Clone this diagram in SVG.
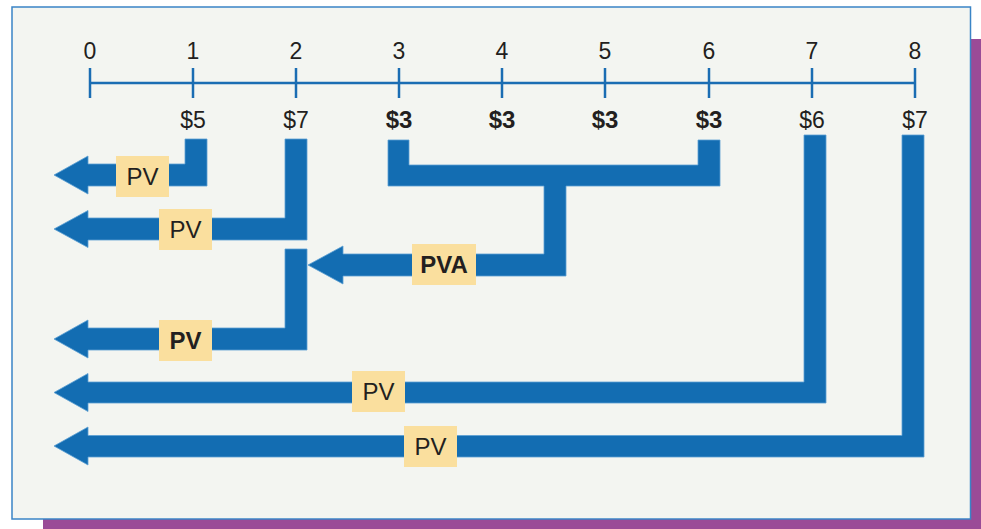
<svg xmlns="http://www.w3.org/2000/svg" width="981" height="529" viewBox="0 0 981 529">
  <style>
    .num { font-family: "Liberation Sans", Arial, sans-serif; font-size: 23px; fill: #231F20; text-anchor: middle; }
    .amt { font-family: "Liberation Sans", Arial, sans-serif; font-size: 23px; fill: #231F20; text-anchor: middle; }
    .bold { font-weight: bold; font-size: 24px; }
    .tag { fill: #FADF9E; }
    .tagtxt { font-family: "Liberation Sans", Arial, sans-serif; font-size: 24px; fill: #231F20; text-anchor: middle; }
    .axis { stroke: #1A6DB3; stroke-width: 2.5; fill: none; }
    .flow { fill: #136DB2; stroke: #5C9FD3; stroke-width: 0.8; }
  </style>

  <!-- drop shadow and panel -->
  <rect x="43" y="39" width="938" height="490" fill="#9A4B97"/>
  <rect x="12" y="7" width="958.5" height="512" fill="#F3F5F1" stroke="#3A84C6" stroke-width="1.5"/>

  <!-- time axis -->
  <g id="timeline">
    <line class="axis" x1="90" y1="83" x2="915" y2="83"/>
    <g class="axis">
      <line x1="90" y1="68" x2="90" y2="98"/>
      <line x1="193" y1="68" x2="193" y2="98"/>
      <line x1="296" y1="68" x2="296" y2="98"/>
      <line x1="399" y1="68" x2="399" y2="98"/>
      <line x1="502" y1="68" x2="502" y2="98"/>
      <line x1="605" y1="68" x2="605" y2="98"/>
      <line x1="709" y1="68" x2="709" y2="98"/>
      <line x1="812" y1="68" x2="812" y2="98"/>
      <line x1="915" y1="68" x2="915" y2="98"/>
    </g>
    <text class="num" x="90" y="59">0</text>
    <text class="num" x="193" y="59">1</text>
    <text class="num" x="296" y="59">2</text>
    <text class="num" x="399" y="59">3</text>
    <text class="num" x="502" y="59">4</text>
    <text class="num" x="605" y="59">5</text>
    <text class="num" x="709" y="59">6</text>
    <text class="num" x="812" y="59">7</text>
    <text class="num" x="915" y="59">8</text>
  </g>

  <!-- cash flows -->
  <g id="cf1"><text class="amt" x="193" y="128">$5</text></g>
  <g id="cf2"><text class="amt" x="296" y="128">$7</text></g>
  <g id="cf3"><text class="amt bold" x="399" y="128">$3</text></g>
  <g id="cf4"><text class="amt bold" x="502" y="128">$3</text></g>
  <g id="cf5"><text class="amt bold" x="605" y="128">$3</text></g>
  <g id="cf6"><text class="amt bold" x="709" y="128">$3</text></g>
  <g id="cf7"><text class="amt" x="812" y="128">$6</text></g>
  <g id="cf8"><text class="amt" x="915" y="128">$7</text></g>

  <!-- discounting arrows -->
  <g id="connectors">
    <path class="flow" d="M207,139 V186 H88 V194 L54,175 L88,156 V164 H185 V139 Z"/>
    <path class="flow" d="M307,139 V240 H88 V247.5 L54,229 L88,210.5 V218 H285 V139 Z"/>
    <path class="flow" d="M307,249 V350 H88 V358 L54,339 L88,320 V328 H285 V249 Z"/>
    <path class="flow" d="M388,140 H409 V165 H698 V140 H720 V186 H566 V276 H343 V284 L308,265 L343,246 V254 H544 V186 H388 Z"/>
    <path class="flow" d="M826,135 V403 H88 V411.5 L54,392.5 L88,373.5 V382 H804 V135 Z"/>
    <path class="flow" d="M924,135 V457 H88 V465 L54,446 L88,427 V435.5 H902 V135 Z"/>
  </g>

  <!-- value tags -->
  <g id="pv1">
    <rect class="tag" x="116" y="156" width="53" height="41"/>
    <text class="tagtxt" x="142.5" y="185">PV</text>
  </g>
  <g id="pv2">
    <rect class="tag" x="159" y="209" width="53" height="41"/>
    <text class="tagtxt" x="185.5" y="238">PV</text>
  </g>
  <g id="pv-annuity">
    <rect class="tag" x="159" y="320" width="53" height="41"/>
    <text class="tagtxt" x="185.5" y="349" font-weight="bold">PV</text>
  </g>
  <g id="pva">
    <rect class="tag" x="412" y="244" width="64" height="41"/>
    <text class="tagtxt" x="444" y="273" font-weight="bold">PVA</text>
  </g>
  <g id="pv7">
    <rect class="tag" x="352" y="371" width="53" height="41"/>
    <text class="tagtxt" x="378.5" y="400">PV</text>
  </g>
  <g id="pv8">
    <rect class="tag" x="404" y="426" width="53" height="41"/>
    <text class="tagtxt" x="430.5" y="455">PV</text>
  </g>
</svg>
